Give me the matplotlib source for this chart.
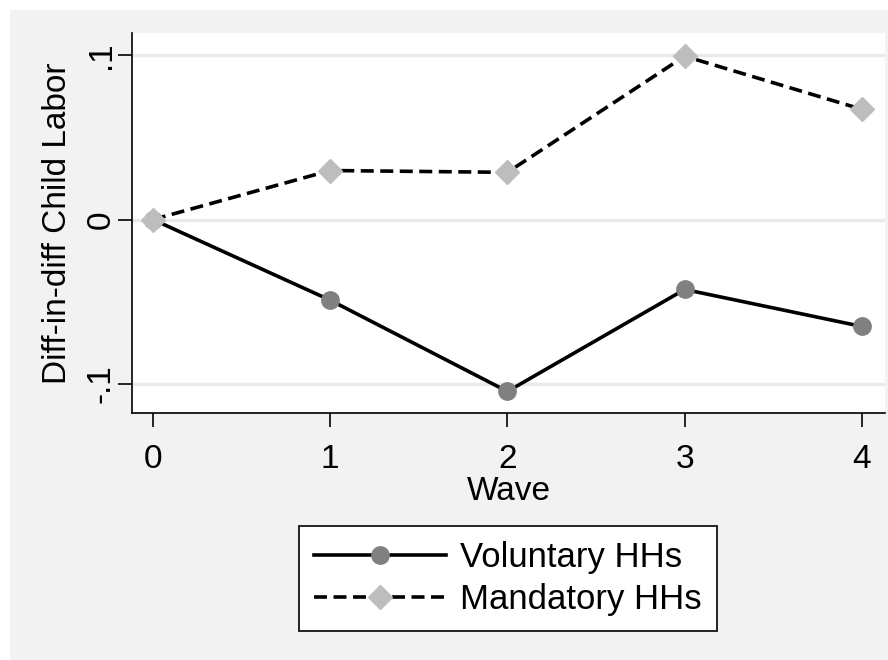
import matplotlib.pyplot as plt
from matplotlib.patches import Rectangle

# data
waves = [0, 1, 2, 3, 4]
voluntary = [0.0, -0.049, -0.1045, -0.0425, -0.065]
mandatory = [0.0, 0.0298, 0.0287, 0.0993, 0.067]
yticks = [-0.1, 0, 0.1]
ytick_labels = ['-.1', '0', '.1']

plt.rcParams['font.family'] = ['Liberation Sans', 'DejaVu Sans']

fig = plt.figure(figsize=(8.88, 6.6), dpi=100)
fig.patch.set_facecolor('white')
# gray graph region (Stata style)
bg = Rectangle((10 / 888, 0), 1, 650 / 660, transform=fig.transFigure,
               facecolor='#f2f2f2', edgecolor='none', zorder=-10)
fig.add_artist(bg)

ax = fig.add_axes([132 / 888, 1 - 413 / 660, (885 - 132) / 888, (413 - 33) / 660])
ax.set_zorder(5)
ax.set_facecolor('white')

ax.plot(waves, voluntary, color='black', lw=2.6, marker='o', ms=12.5,
        mfc='#808080', mec='#808080', label='Voluntary HHs', zorder=3)
ax.plot(waves, mandatory, color='black', lw=2.6, ls=(0, (3.6, 1.8)), marker='D', ms=12,
        mfc='#bdbdbd', mec='#bdbdbd', label='Mandatory HHs', zorder=3)

ax.set_xlim(-0.118, 4.13)
ax.set_ylim(-0.1176, 0.1134)
ax.set_xticks(waves)
ax.set_yticks(yticks)
ax.set_yticklabels(ytick_labels, rotation=90, va='center')
for y in yticks:
    ax.axhline(y, color='#eaeaea', lw=2.5, zorder=1)

for s in ['top', 'right']:
    ax.spines[s].set_visible(False)
for s in ['left', 'bottom']:
    ax.spines[s].set_linewidth(1.2)
ax.tick_params(direction='out', length=10, width=1.2, labelsize=24)
ax.tick_params(axis='x', pad=12)
ax.tick_params(axis='y', pad=1)

ax.set_xlabel('Wave', fontsize=24, labelpad=1)
ax.set_ylabel('Diff-in-diff Child Labor', fontsize=24, labelpad=9)

leg = ax.legend(loc='center', bbox_to_anchor=(508 / 888, 1 - 578.5 / 660),
                bbox_transform=fig.transFigure, fontsize=25, frameon=True,
                fancybox=False, edgecolor='black', facecolor='white', framealpha=1,
                handlelength=3.8, handletextpad=0.4, labelspacing=0.25,
                borderpad=0.45, borderaxespad=0)
leg.get_frame().set_linewidth(1.2)

fig.savefig('out.png', dpi=100)
